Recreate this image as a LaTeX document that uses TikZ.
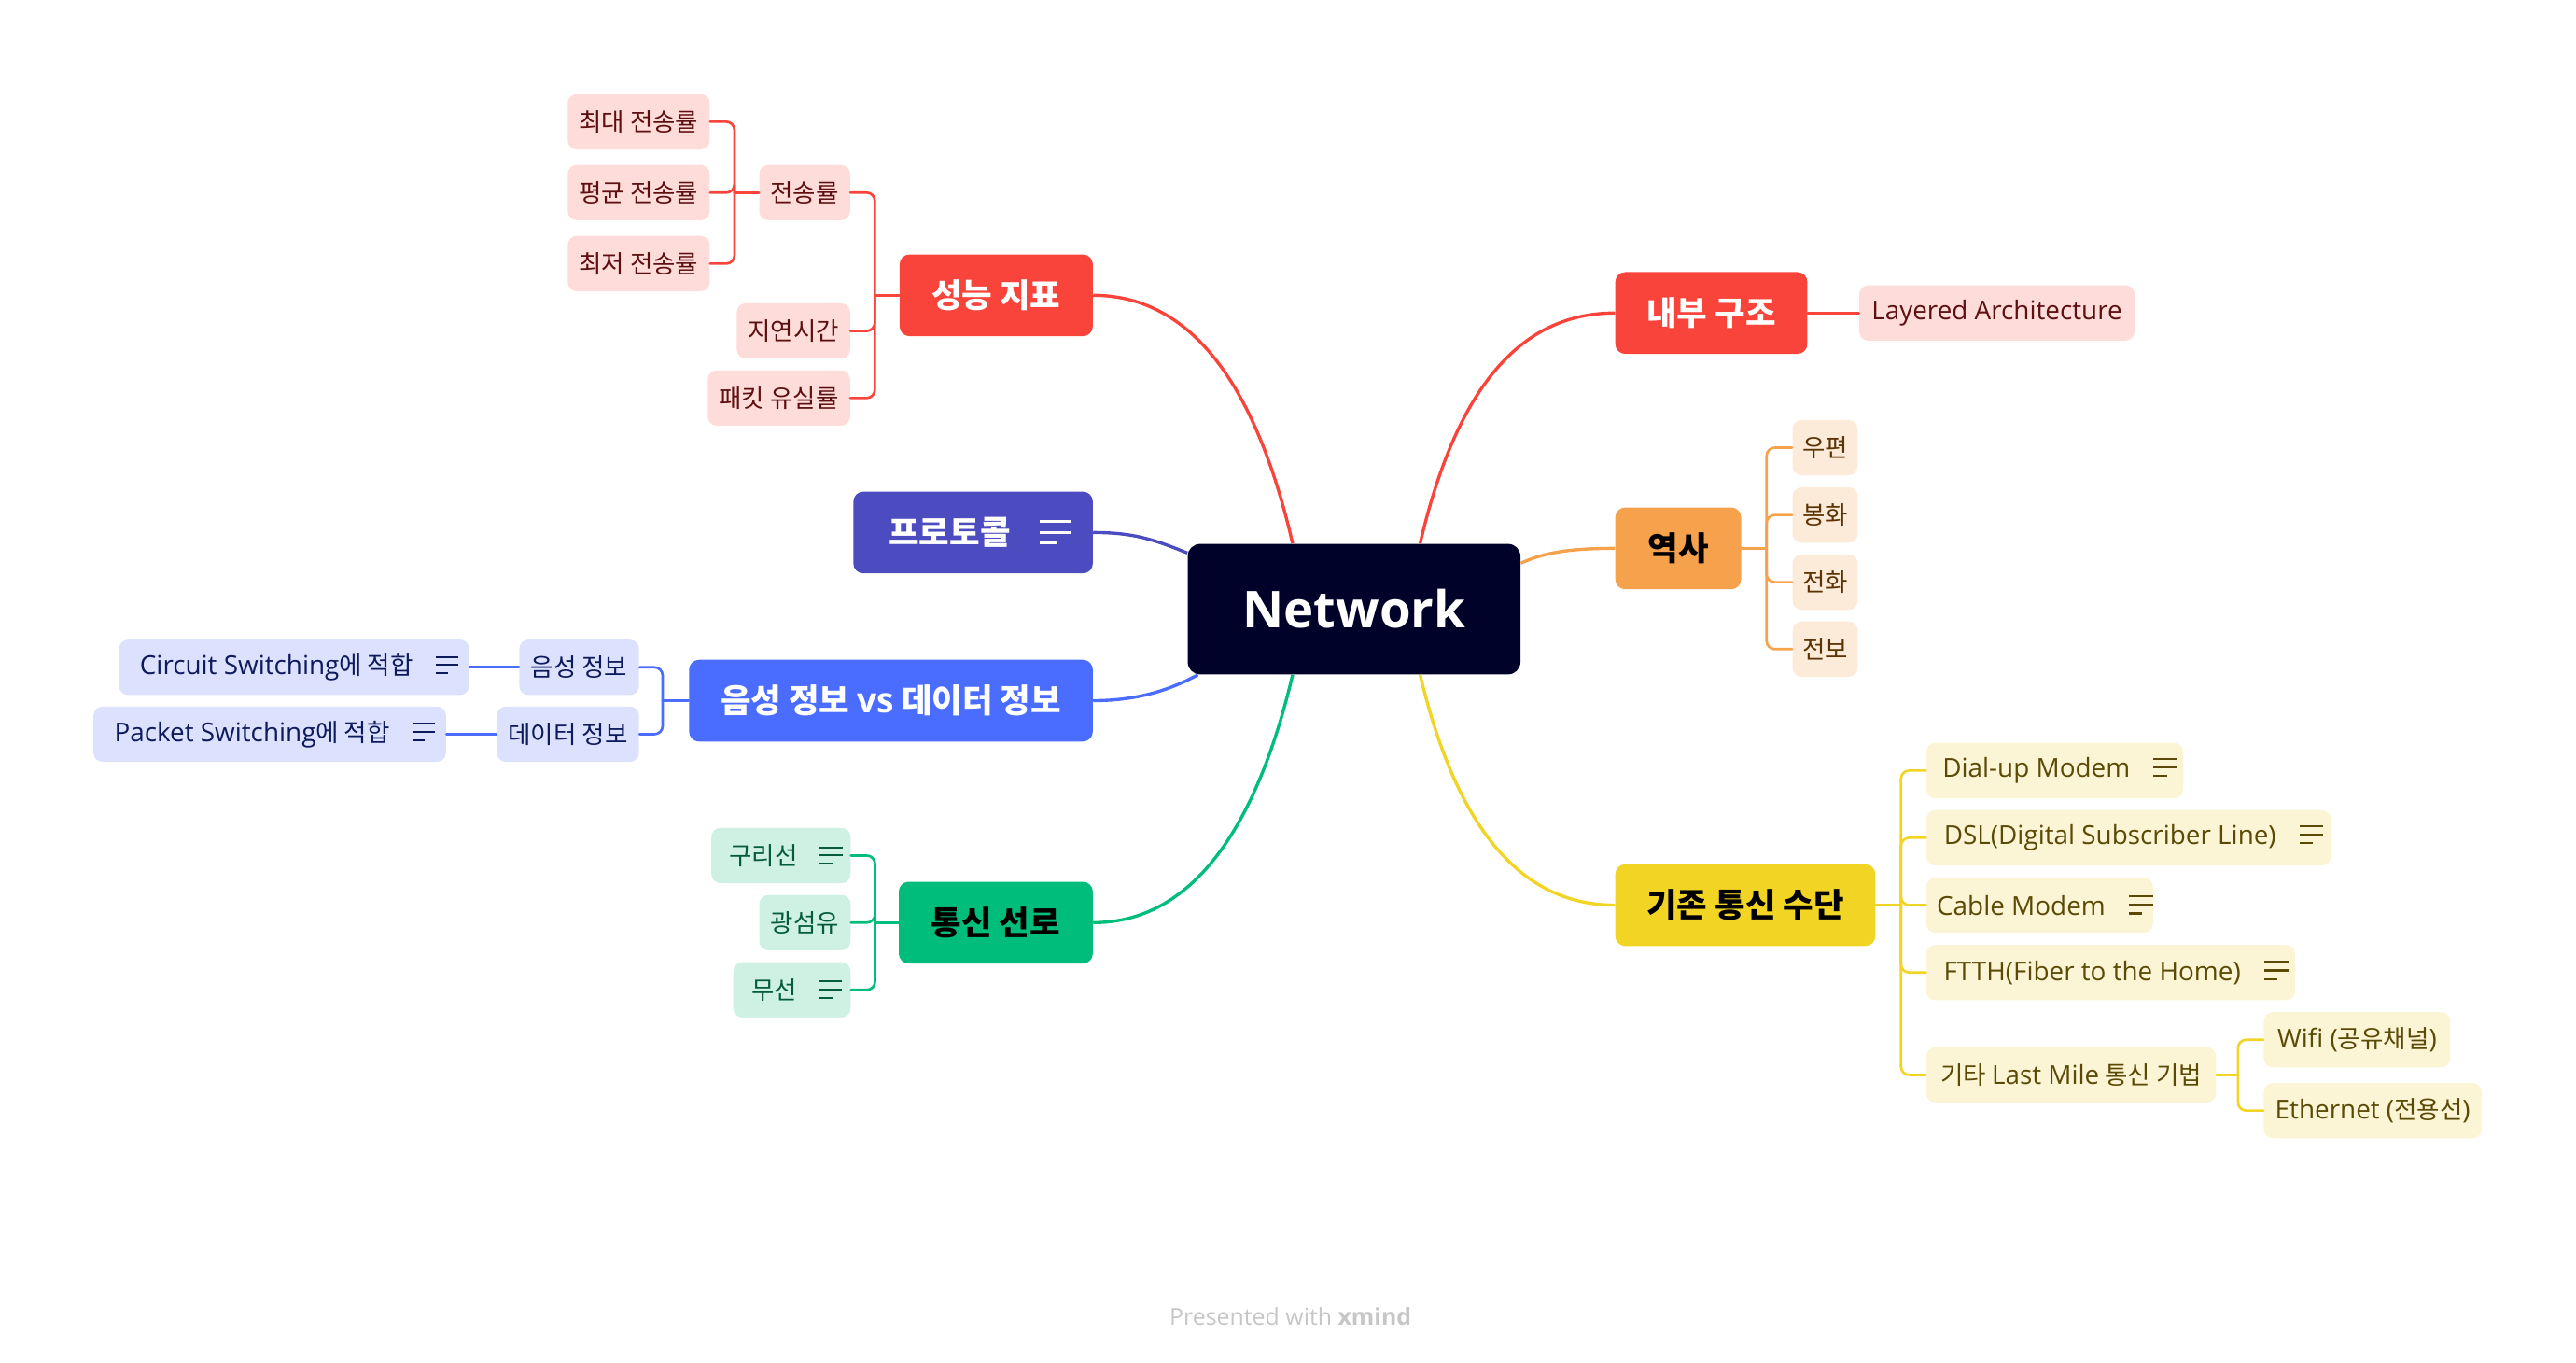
\documentclass[tikz,border=0pt]{standalone}
\usepackage{fontspec}
\setmainfont{Noto Sans CJK KR}
\newfontfamily\en[Scale=1.05]{Open Sans}

\definecolor{netbg}{HTML}{000229}
\definecolor{redm}{HTML}{F9443B}
\definecolor{redl}{HTML}{FDDCDA}
\definecolor{redt}{HTML}{5E1010}
\definecolor{purplem}{HTML}{4C4BC0}
\definecolor{bluem}{HTML}{4A6DFF}
\definecolor{bluel}{HTML}{DCE2FE}
\definecolor{bluet}{HTML}{0D1A5C}
\definecolor{greenm}{HTML}{00BD7B}
\definecolor{greenl}{HTML}{CFF1E4}
\definecolor{greent}{HTML}{045C3C}
\definecolor{orangem}{HTML}{F6A24D}
\definecolor{orangel}{HTML}{FDEBDA}
\definecolor{oranget}{HTML}{5C3305}
\definecolor{yellowm}{HTML}{F2D424}
\definecolor{yellowl}{HTML}{FCF5D5}
\definecolor{yellowt}{HTML}{5B4A06}

\newcommand\notes{\hspace{0.9em}\rlap{\rule[0.67em]{0.92em}{0.08em}}\rlap{\rule[0.34em]{0.92em}{0.08em}}\rule[0.01em]{0.52em}{0.08em}\hspace{0.4em}}

\begin{document}
\begin{tikzpicture}[x=1pt, y=-1pt,
  main/.style={rounded corners=6pt, minimum height=49.5pt, inner sep=0pt, font=\fontsize{20}{24}\selectfont\bfseries},
  sub/.style={rounded corners=5.5pt, minimum height=33.5pt, inner sep=0pt, font=\fontsize{15}{18}\selectfont},
  redsub/.style={sub, fill=redl, text=redt},
  bluesub/.style={sub, fill=bluel, text=bluet},
  greensub/.style={sub, fill=greenl, text=greent},
  orangesub/.style={sub, fill=orangel, text=oranget, minimum width=39.5pt, anchor=west},
  yellowsub/.style={sub, fill=yellowl, text=yellowt, anchor=west},
  trunk/.style={line width=1.9pt},
  twig/.style={line width=1.5pt, rounded corners=5pt, line cap=round}]
  \useasboundingbox (0,0) rectangle (1560,825);

  \node(net)[rounded corners=7.5pt, fill=netbg, text=white, minimum width=201.5pt, minimum height=79pt, font=\en\fontsize{29.3}{35}\selectfont\bfseries] at (820,368.8) {Network};

  \node(perf)[main, fill=redm, text=white, minimum width=117pt, anchor=east] at (662,178.8) {성능 지표};
  \node(proto)[main, fill=purplem, text=white, minimum width=145pt, anchor=east] at (662,322.4) {프로토콜\notes};
  \node(voice)[main, fill=bluem, text=white, minimum width=244.5pt, anchor=east] at (662,424.2) {음성 정보 {\en vs} 데이터 정보};
  \node(wire)[main, fill=greenm, minimum width=117.5pt, anchor=east] at (662,558.6) {통신 선로};
  \node(inner)[main, fill=redm, text=white, minimum width=116.3pt, anchor=west] at (978,189.5) {내부 구조};
  \node(hist)[main, fill=orangem, minimum width=76.2pt, anchor=west] at (978,332) {역사};
  \node(legacy)[main, fill=yellowm, minimum width=157.5pt, anchor=west] at (978,548) {기존 통신 수단};

  \node(rate)[redsub, minimum width=55pt, anchor=east] at (515,116.6) {전송률};
  \node(maxr)[redsub, minimum width=86pt, anchor=east] at (430,73.7) {최대 전송률};
  \node(avgr)[redsub, minimum width=86pt, anchor=east] at (430,116.6) {평균 전송률};
  \node(minr)[redsub, minimum width=86pt, anchor=east] at (430,159.6) {최저 전송률};
  \node(delay)[redsub, minimum width=68.6pt, anchor=east] at (515,200.4) {지연시간};
  \node(loss)[redsub, minimum width=86.2pt, anchor=east] at (515,241) {패킷 유실률};
  \node(layer)[redsub, minimum width=166.8pt, anchor=west] at (1125.7,189.5) {\en Layered Architecture};

  \node(vinfo)[bluesub, minimum width=72.5pt, anchor=east] at (387.2,404) {음성 정보};
  \node(dinfo)[bluesub, minimum width=86.2pt, anchor=east] at (387.2,444.5) {데이터 정보};
  \node(circ)[bluesub, minimum width=212pt, anchor=east] at (284.3,404) {{\en Circuit Switching}에 적합\notes};
  \node(pack)[bluesub, minimum width=213.5pt, anchor=east] at (270.3,444.5) {{\en Packet Switching}에 적합\notes};

  \node(copper)[greensub, minimum width=84.3pt, anchor=east] at (515.3,518) {구리선\notes};
  \node(fiber)[greensub, minimum width=55.3pt, anchor=east] at (515.3,558.6) {광섬유};
  \node(radio)[greensub, minimum width=71pt, anchor=east] at (515.3,599.3) {무선\notes};

  \node(post)[orangesub] at (1085.3,271) {우편};
  \node(beacon)[orangesub] at (1085.3,311.8) {봉화};
  \node(phone)[orangesub] at (1085.3,352.5) {전화};
  \node(telegram)[orangesub] at (1085.3,393) {전보};

  \node(dial)[yellowsub, minimum width=155.7pt] at (1166.3,466.5) {\en Dial-up Modem\notes};
  \node(dsl)[yellowsub, minimum width=245pt] at (1166.3,507.2) {\en DSL(Digital Subscriber Line)\notes};
  \node(cable)[yellowsub, minimum width=137.3pt] at (1166.3,548) {\en Cable Modem\notes};
  \node(ftth)[yellowsub, minimum width=223.4pt] at (1166.3,588.8) {\en FTTH(Fiber to the Home)\notes};
  \node(lastmile)[yellowsub, minimum width=175.5pt] at (1166.3,650.8) {기타 {\en Last Mile} 통신 기법};
  \node(wifi)[yellowsub, minimum width=113pt] at (1370.7,629.5) {{\en Wifi (}공유채널{\en )}};
  \node(eth)[yellowsub, minimum width=132pt] at (1370.7,672.4) {{\en Ethernet (}전용선{\en )}};

  \node(credit)[text=gray!45, font=\en\fontsize{13.4}{16}\selectfont] at (781.5,797) {Presented with \textbf{xmind}};

  \draw[trunk, redm] ([xshift=-37.2pt]net.north) .. controls +(-22,-95) and +(60,0) .. (perf.east);
  \draw[trunk, redm] ([xshift=40pt]net.north) .. controls +(21,-90) and +(-60,0) .. (inner.west);
  \draw[trunk, purplem] ([yshift=34pt]net.west) .. controls +(-20,-8) and +(25,0) .. (proto.east);
  \draw[trunk, bluem] ([xshift=-94.6pt]net.south) .. controls +(-18,10) and +(25,0) .. (voice.east);
  \draw[trunk, greenm] ([xshift=-37.2pt]net.south) .. controls +(-22,93) and +(60,0) .. (wire.east);
  \draw[trunk, yellowm] ([xshift=40pt]net.south) .. controls +(21,88) and +(-60,0) .. (legacy.west);
  \draw[trunk, orangem] ([yshift=27.8pt]net.east) .. controls +(15,-7) and +(-25,0) .. (hist.west);

  \draw[twig, redm] (perf.west) -- ++(-14.8,0) coordinate (perfbus);
  \draw[twig, redm] (perfbus) |- (rate.east);
  \draw[twig, redm] (perfbus) |- (delay.east);
  \draw[twig, redm] (perfbus) |- (loss.east);
  \draw[twig, redm] (rate.west) -- ++(-14.8,0) coordinate (ratebus);
  \draw[twig, redm] (ratebus) |- (maxr.east);
  \draw[twig, redm] (ratebus) |- (avgr.east);
  \draw[twig, redm] (ratebus) |- (minr.east);
  \draw[twig, redm] (inner.east) -- (layer.west);

  \draw[twig, bluem] (voice.west) -- ++(-15.8,0) coordinate (voicebus);
  \draw[twig, bluem] (voicebus) |- (vinfo.east);
  \draw[twig, bluem] (voicebus) |- (dinfo.east);
  \draw[twig, bluem] (vinfo.west) -- (circ.east);
  \draw[twig, bluem] (dinfo.west) -- (pack.east);

  \draw[twig, greenm] (wire.west) -- ++(-14.2,0) coordinate (wirebus);
  \draw[twig, greenm] (wirebus) |- (copper.east);
  \draw[twig, greenm] (wirebus) |- (fiber.east);
  \draw[twig, greenm] (wirebus) |- (radio.east);

  \draw[twig, orangem] (hist.east) -- ++(15.2,0) coordinate (histbus);
  \draw[twig, orangem] (histbus) |- (post.west);
  \draw[twig, orangem] (histbus) |- (beacon.west);
  \draw[twig, orangem] (histbus) |- (phone.west);
  \draw[twig, orangem] (histbus) |- (telegram.west);

  \draw[twig, yellowm] (legacy.east) -- ++(15.3,0) coordinate (legacybus);
  \draw[twig, yellowm] (legacybus) |- (dial.west);
  \draw[twig, yellowm] (legacybus) |- (dsl.west);
  \draw[twig, yellowm] (legacybus) |- (cable.west);
  \draw[twig, yellowm] (legacybus) |- (ftth.west);
  \draw[twig, yellowm] (legacybus) |- (lastmile.west);
  \draw[twig, yellowm] (lastmile.east) -- ++(13.1,0) coordinate (lastbus);
  \draw[twig, yellowm] (lastbus) |- (wifi.west);
  \draw[twig, yellowm] (lastbus) |- (eth.west);
\end{tikzpicture}
\end{document}
